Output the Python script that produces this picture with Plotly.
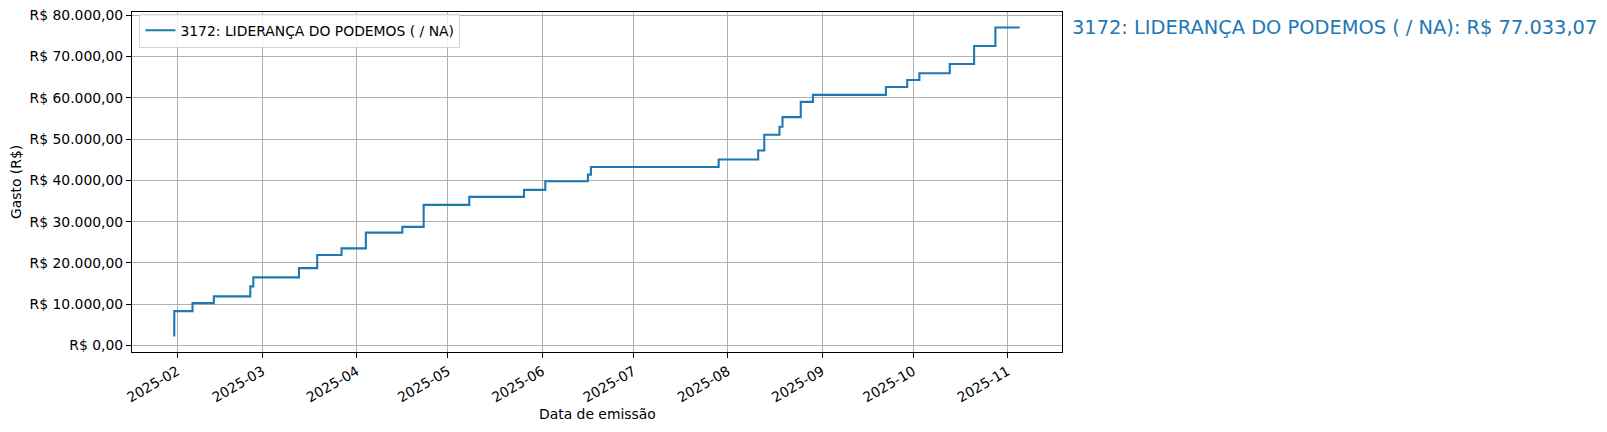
import pandas as pd
import plotly.graph_objects as go

# ── Data (cumulative spending) ──────────────────────────────────
datas = ["2025-01-31", "2025-02-06", "2025-02-13", "2025-02-25", "2025-02-26",
         "2025-03-13", "2025-03-19", "2025-03-27", "2025-04-04", "2025-04-16",
         "2025-04-23", "2025-05-08", "2025-05-26", "2025-06-02", "2025-06-16",
         "2025-06-17", "2025-07-29", "2025-08-11", "2025-08-13", "2025-08-18",
         "2025-08-19", "2025-08-25", "2025-08-29", "2025-09-22", "2025-09-29",
         "2025-10-03", "2025-10-13", "2025-10-21", "2025-10-28", "2025-11-05"]
gasto_acum = [2182, 8330, 10270, 11900, 14320,
              16500, 18760, 21920, 23540, 27350,
              28730, 34060, 36000, 37700, 39800,
              41400, 43230, 45050, 47250, 51050,
              52980, 55320, 59010, 60700, 62630,
              64320, 65930, 68180, 72550, 77033.07]

serie_nome = "3172: LIDERANÇA DO PODEMOS ( / NA)"
total_txt = "R$ 77.033,07"

y_ticks = [0, 10000, 20000, 30000, 40000, 50000, 60000, 70000, 80000]
y_tick_txt = ["R$ 0,00", "R$ 10.000,00", "R$ 20.000,00", "R$ 30.000,00",
              "R$ 40.000,00", "R$ 50.000,00", "R$ 60.000,00", "R$ 70.000,00",
              "R$ 80.000,00"]
x_ticks = ["2025-02-01", "2025-03-01", "2025-04-01", "2025-05-01", "2025-06-01",
           "2025-07-01", "2025-08-01", "2025-09-01", "2025-10-01", "2025-11-01"]
x_tick_txt = ["2025-02", "2025-03", "2025-04", "2025-05", "2025-06",
              "2025-07", "2025-08", "2025-09", "2025-10", "2025-11"]

# matplotlib-like 5% margins
d = pd.to_datetime(datas)
span = d.max() - d.min()
x_range = [d.min() - 0.05 * span, d.max() + 0.05 * span]
y_span = max(gasto_acum) - min(gasto_acum)
y_range = [min(gasto_acum) - 0.05 * y_span, max(gasto_acum) + 0.05 * y_span]

COR = "#1f77b4"
FONTE = "DejaVu Sans"
W, H = 1607, 432
M = dict(l=132, r=545, t=12, b=80)

fig = go.Figure()
fig.add_trace(go.Scatter(x=d, y=gasto_acum, mode="lines", name=serie_nome,
                         line=dict(color=COR, width=2.1, shape="vh")))

# total label to the right of the axes
fig.add_annotation(x=1.0086, xref="paper", xanchor="left",
                   y=gasto_acum[-1], yref="y", yanchor="middle",
                   text=f"{serie_nome}: {total_txt}", showarrow=False,
                   font=dict(family=FONTE, size=19.4, color=COR))

# axis titles as annotations (fixed positions, like matplotlib)
plot_h = H - M["t"] - M["b"]
plot_w = W - M["l"] - M["r"]
fig.add_annotation(x=0.5, xref="paper", y=-(414 - (H - M["b"])) / plot_h,
                   yref="paper", yanchor="middle", text="Data de emissão",
                   showarrow=False, font=dict(family=FONTE, size=13.9))
fig.add_annotation(x=-(M["l"] - 16) / plot_w, xref="paper", xanchor="center",
                   y=0.5, yref="paper", text="Gasto (R$)", textangle=-90,
                   showarrow=False, font=dict(family=FONTE, size=13.9))

eixo = dict(showline=True, linecolor="black", linewidth=1.1, mirror=True,
            ticks="outside", ticklen=5, tickwidth=1.1, tickcolor="black",
            showgrid=True, gridcolor="#b0b0b0", gridwidth=1.1, zeroline=False,
            automargin=False,
            tickfont=dict(family=FONTE, size=13.9, color="black"))

fig.update_layout(
    width=W, height=H,
    paper_bgcolor="white", plot_bgcolor="white",
    margin=M,
    font=dict(family=FONTE, size=13.9, color="black"),
    showlegend=True,
    legend=dict(x=0.008, y=0.995, xanchor="left", yanchor="top",
                bgcolor="rgba(255,255,255,0.8)", bordercolor="#d5d5d5",
                borderwidth=1, itemwidth=30, font=dict(family=FONTE, size=13.9)),
    xaxis=dict(eixo, range=x_range, tickvals=pd.to_datetime(x_ticks),
               ticktext=x_tick_txt, tickangle=-30),
    yaxis=dict(eixo, range=y_range, tickvals=y_ticks, ticktext=y_tick_txt),
)

# page body has a default 8px margin; drop it so the figure sits at (0, 0)
fig.write_html("out.html", config={"displayModeBar": False},
               post_script="document.body.style.margin='0';")
